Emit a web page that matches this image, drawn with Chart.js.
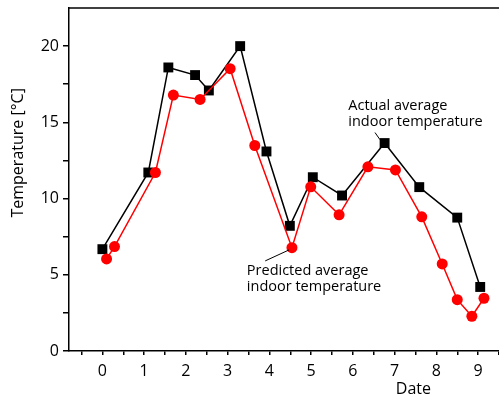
<!DOCTYPE html>
<html>
<head>
<meta charset="utf-8">
<script src="https://cdn.jsdelivr.net/npm/chart.js@4.4.1/dist/chart.umd.min.js"></script>
<style>
  html, body { margin: 0; padding: 0; background: #fff; }
</style>
</head>
<body>
<canvas id="chart" width="499" height="401"></canvas>
<script>
// actual average indoor temperature (black squares)
const actualDate = [0, 1.10, 1.58, 2.22, 2.55, 3.30, 3.93, 4.49, 5.04, 5.74, 6.76, 7.59, 8.50, 9.05];
const actualTemp = [6.68, 11.71, 18.6, 18.1, 17.09, 20.0, 13.09, 8.21, 11.4, 10.2, 13.64, 10.75, 8.75, 4.2];

// predicted average indoor temperature (red circles)
const predDate = [0.10, 0.29, 1.27, 1.70, 2.34, 3.06, 3.65, 4.54, 4.99, 5.67, 6.36, 7.02, 7.65, 8.14, 8.50, 8.85, 9.14];
const predTemp = [6.04, 6.85, 11.71, 16.79, 16.5, 18.52, 13.48, 6.78, 10.77, 8.93, 12.08, 11.88, 8.80, 5.71, 3.37, 2.28, 3.46];

const xTickLabels = [0, 1, 2, 3, 4, 5, 6, 7, 8, 9];
const yTickLabels = [0, 5, 10, 15, 20];

const FONT = "'Open Sans', 'DejaVu Sans', sans-serif";

const toXY = (xs, ys) => xs.map((x, i) => ({ x: x, y: ys[i] }));

// extra drawing: top frame, labels, leader lines, axis titles
const decorations = {
  id: "decorations",
  afterDraw(chart) {
    const ctx = chart.ctx;
    const xs = chart.scales.x;
    const ys = chart.scales.y;
    const area = chart.chartArea;
    const px = (v) => xs.getPixelForValue(v);
    const py = (v) => ys.getPixelForValue(v);

    ctx.save();
    ctx.strokeStyle = "#000";
    ctx.lineWidth = 1.5;
    ctx.beginPath();
    ctx.moveTo(area.left, area.top);
    ctx.lineTo(chart.width, area.top);
    ctx.stroke();

    // leader lines
    ctx.lineWidth = 1;
    ctx.beginPath();
    ctx.moveTo(px(6.53), py(14.33));
    ctx.lineTo(px(6.65), py(13.86));
    ctx.moveTo(px(3.90), py(5.91));
    ctx.lineTo(px(4.47), py(6.63));
    ctx.stroke();

    ctx.fillStyle = "#000";
    ctx.font = "14.5px " + FONT;
    ctx.textAlign = "left";
    ctx.textBaseline = "middle";
    ctx.fillText("Actual average", px(5.89), py(16.09));
    ctx.fillText("indoor temperature", px(5.89), py(15.04));
    ctx.fillText("Predicted average", px(3.46), py(5.27));
    ctx.fillText("indoor temperature", px(3.46), py(4.22));

    // axis titles
    ctx.font = "16px " + FONT;
    ctx.textAlign = "center";
    ctx.fillText("Date", px(7.45), py(-2.5));
    ctx.translate(px(-2.0), py(13.0));
    ctx.rotate(-Math.PI / 2);
    ctx.fillText("Temperature [°C]", 0, 0);
    ctx.restore();
  },
};

new Chart(document.getElementById("chart"), {
  type: "scatter",
  data: {
    datasets: [
      {
        label: "Predicted average indoor temperature",
        data: toXY(predDate, predTemp),
        showLine: true,
        borderColor: "#ff0000",
        backgroundColor: "#ff0000",
        borderWidth: 1.5,
        pointStyle: "circle",
        pointRadius: 5.5,
        pointBorderWidth: 0,
        clip: false,
        order: 1,
      },
      {
        label: "Actual average indoor temperature",
        data: toXY(actualDate, actualTemp),
        showLine: true,
        borderColor: "#000",
        backgroundColor: "#000",
        borderWidth: 1.5,
        pointStyle: "rect",
        pointRadius: 7,
        pointBorderWidth: 0,
        clip: false,
        order: 2,
      },
    ],
  },
  options: {
    responsive: false,
    animation: false,
    devicePixelRatio: 1,
    layout: { autoPadding: false, padding: { top: 8, right: 0, left: 0, bottom: 0 } },
    plugins: {
      legend: { display: false },
      tooltip: { enabled: false },
    },
    scales: {
      x: {
        type: "linear",
        min: -0.8,
        max: 9.5,
        afterBuildTicks: (scale) => {
          const t = [];
          for (let v = -0.5; v <= 9.5001; v += 0.5) t.push({ value: Math.round(v * 2) / 2 });
          scale.ticks = t;
        },
        afterFit: (scale) => {
          scale.height = 50;
          scale.paddingLeft = 0;
          scale.paddingRight = 0;
        },
        border: { color: "#000", width: 1.5 },
        grid: { drawOnChartArea: false, drawTicks: true, tickLength: 4, color: "#000", lineWidth: 1.5 },
        ticks: {
          color: "#000",
          font: { family: FONT, size: 16 },
          padding: 7,
          maxRotation: 0,
          autoSkip: false,
          callback: (v) => (xTickLabels.includes(v) ? String(v) : ""),
        },
      },
      y: {
        type: "linear",
        min: 0,
        max: 22.5,
        afterBuildTicks: (scale) => {
          const t = [];
          for (let v = 0; v <= 20.001; v += 2.5) t.push({ value: v });
          scale.ticks = t;
        },
        afterFit: (scale) => {
          scale.width = 69;
          scale.paddingTop = 0;
          scale.paddingBottom = 0;
        },
        border: { color: "#000", width: 1.5 },
        grid: { drawOnChartArea: false, drawTicks: true, tickLength: 6, color: "#000", lineWidth: 1.5 },
        ticks: {
          color: "#000",
          font: { family: FONT, size: 16 },
          padding: 4,
          autoSkip: false,
          callback: (v) => (yTickLabels.includes(v) ? String(v) : ""),
        },
      },
    },
  },
  plugins: [decorations],
});
</script>
</body>
</html>
